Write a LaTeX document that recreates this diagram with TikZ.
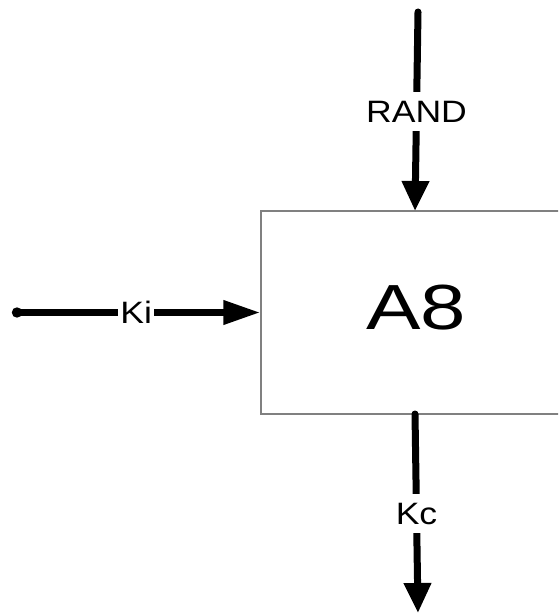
\documentclass[tikz,border=0pt]{standalone}
\usepackage{fontspec}
\setmainfont{Liberation Sans}
\usepackage{tikz}
\usetikzlibrary{arrows.meta, positioning}
\definecolor{cFrame}{RGB}{128,128,128}

\begin{document}
\begin{tikzpicture}[x=0.02cm, y=-0.02cm,
	flow/.style={line width=0.14cm, line cap=round, -{Triangle[length=0.6cm, width=0.52cm]}},
	lbl/.style={fill=white, inner xsep=1pt, inner ysep=0.17cm, text height=12.6pt, text depth=0pt, font=\fontsize{17.6}{20}\selectfont, xscale=1.15, transform shape},
	box/.style={draw=cFrame, line width=0.03cm, minimum width=7.18cm, minimum height=4.06cm, inner sep=0pt}]
					\useasboundingbox (0,0) rectangle (558,614);
					\clip (0,0) rectangle (558,614);
					% block
					\node[box] (box) at (440.5,312.5) {};
					\node[font=\fontsize{36.3}{40}\selectfont, xscale=1.28, transform shape, text height=26pt, text depth=0pt, inner sep=0pt] (a8) at (416,307) {A8};
					% in and out
					\coordinate (randtop) at (418,12);
					\coordinate (randin) at (415,211);
					\coordinate (kcout) at (415,414);
					\coordinate (kcend) at (418,613);
					\coordinate (kistart) at (12,312.5);
					\foreach \a/\b/\t in {randtop/randin/RAND, kcout/kcend/Kc} {
						\draw[flow] (\a) -- node[lbl] (lbl\t) {\t} (\b);
					}
					\draw[flow, {Circle[length=0.2cm]}-{Triangle[length=0.74cm, width=0.46cm]}] (kistart) -- node[lbl] (lblKi) {Ki} (box.west);
				\end{tikzpicture}
\end{document}
